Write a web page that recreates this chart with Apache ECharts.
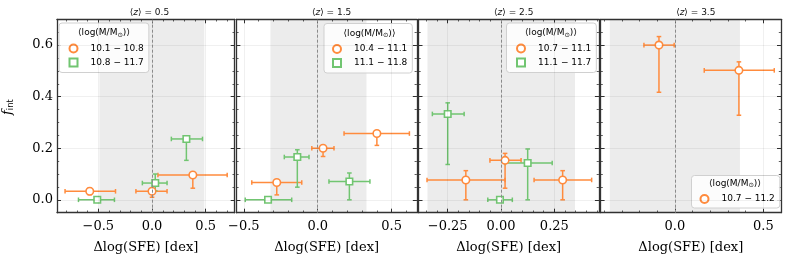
<!DOCTYPE html>
<html><head><meta charset="utf-8">
<script src="https://cdn.jsdelivr.net/npm/echarts@6/dist/echarts.min.js"></script>
<style>html,body{margin:0;padding:0;background:#fff}#c{width:789px;height:260px}</style>
</head><body><div id="c"></div>
<script>
// ---------------- data ----------------
const panelZ = ['0.5', '1.5', '2.5', '3.5'];
const xRanges = [[-0.885, 0.77], [-0.55, 0.67], [-0.387, 0.459], [-0.42, 0.60]];
const xMajorTicks = [[-0.5, 0, 0.5], [-0.5, 0, 0.5], [-0.25, 0, 0.25], [0, 0.5]];
const xMinorStep = [0.1, 0.1, 0.05, 0.1];
const xDecimals = [1, 1, 2, 1];
const shadeBands = [[-0.49, 0.487], [-0.32, 0.33], [-0.345, 0.347], [-0.368, 0.368]];
const yRange = [-0.05, 0.7];
const yMajorTicks = [0.0, 0.2, 0.4, 0.6];
const yMinorStep = 0.05;

// point: [x, y, xLow, xHigh, yLow, yHigh]
const z05LowMass = [[-0.58, 0.033, -0.81, -0.34, 0.02, 0.045], [0.0, 0.033, -0.15, 0.14, 0.01, 0.04], [0.38, 0.096, 0.055, 0.70, 0.045, 0.104]];
const z05HighMass = [[-0.51, 0.0, -0.685, -0.35, 0, 0], [0.03, 0.065, -0.09, 0.14, 0.035, 0.1], [0.32, 0.236, 0.18, 0.47, 0.153, 0.245]];
const z15LowMass = [[-0.277, 0.067, -0.446, -0.108, 0.019, 0.077], [0.036, 0.2, -0.04, 0.11, 0.168, 0.21], [0.4, 0.257, 0.178, 0.62, 0.211, 0.262]];
const z15HighMass = [[-0.336, 0.0, -0.49, -0.176, 0, 0], [-0.138, 0.166, -0.226, -0.059, 0.049, 0.194], [0.214, 0.071, 0.076, 0.353, 0, 0.104]];
const z25LowMass = [[-0.165, 0.077, -0.347, 0.019, 0, 0.113], [0.019, 0.153, -0.052, 0.094, 0.045, 0.18], [0.289, 0.077, 0.155, 0.425, 0, 0.113]];
const z25HighMass = [[-0.25, 0.333, -0.322, -0.173, 0.137, 0.376], [-0.005, 0.0, -0.062, 0.053, 0, 0], [0.125, 0.143, 0.019, 0.24, 0, 0.197]];
const z35LowMass = [[-0.09, 0.6, -0.175, -0.004, 0.417, 0.633], [0.362, 0.502, 0.166, 0.562, 0.328, 0.535]];

const legendTitle = '⟨log(M/M{sub|⊙})⟩';
const groups = [
  {panel: 0, name: '10.1 − 10.8', data: z05LowMass, kind: 'low'},
  {panel: 0, name: '10.8 − 11.7', data: z05HighMass, kind: 'high'},
  {panel: 1, name: '10.4 − 11.1', data: z15LowMass, kind: 'low'},
  {panel: 1, name: '11.1 − 11.8', data: z15HighMass, kind: 'high'},
  {panel: 2, name: '10.7 − 11.1', data: z25LowMass, kind: 'low'},
  {panel: 2, name: '11.1 − 11.7', data: z25HighMass, kind: 'high'},
  {panel: 3, name: '10.7 − 11.2', data: z35LowMass, kind: 'low'}
];

// ---------------- style / layout ----------------
const ORANGE = '#ff8b3d', GREEN = '#71c571';
const AX = '#333333';
const gridLeft0 = 54.3, gridStep = 182.1, gridW = 180.4, gridTop = 19.3, gridH = 193.4;
const legendBoxes = [
  {left: 59, top: 23, pad: [19.5, 5, 4, 9.5], titleX: 104, titleY: 33},
  {left: 324, top: 23.5, pad: [19.5, 5, 4, 8], titleX: 369.5, titleY: 33.5},
  {left: 506.5, top: 23, pad: [19.5, 5, 4, 9.5], titleX: 551, titleY: 33},
  {left: 691.5, top: 175.5, pad: [17.5, 5, 3, 8], titleX: 735, titleY: 183.5}
];

function tickList(min, max, step) {
  const out = [];
  const s = Math.ceil(min / step - 1e-9), e = Math.floor(max / step + 1e-9);
  for (let k = s; k <= e; k++) out.push(+(k * step).toFixed(6));
  return out;
}
function fmt(v, d) {
  const s = Math.abs(v).toFixed(d);
  return (v < -1e-9 ? '−' : '') + s;
}

const grid = [], xAxis = [], yAxis = [], series = [], legend = [], title = [];
for (let i = 0; i < 4; i++) {
  const left = gridLeft0 + i * gridStep;
  grid.push({left: left, top: gridTop, width: gridW, height: gridH, containLabel: false});
  title.push({
    text: '⟨{i|z}⟩ = ' + panelZ[i], left: left + gridW / 2, top: 3, textAlign: 'center',
    textStyle: {fontFamily: 'DejaVu Sans', fontSize: 9, fontWeight: 'normal', color: '#111',
      rich: {i: {fontFamily: 'DejaVu Sans', fontStyle: 'italic', fontSize: 9, color: '#111'}}}
  });
  const [xmin, xmax] = xRanges[i];
  const majX = xMajorTicks[i], minX = tickList(xmin, xmax, xMinorStep[i]);
  const minY = tickList(yRange[0], yRange[1], yMinorStep);
  const d = xDecimals[i];
  const baseX = {type: 'value', gridIndex: i, min: xmin, max: xmax, splitLine: {show: false}, scale: true};
  const baseY = {type: 'value', gridIndex: i, min: yRange[0], max: yRange[1], splitLine: {show: false}, scale: true};
  xAxis.push(Object.assign({}, baseX, {
    position: 'bottom',
    axisLine: {show: true, onZero: false, lineStyle: {color: AX, width: 1.3}},
    axisTick: {show: true, inside: true, length: 4, customValues: majX, lineStyle: {color: AX, width: 1}},
    axisLabel: {show: true, customValues: majX, formatter: v => fmt(v, d), fontFamily: 'DejaVu Serif', fontSize: 13, color: '#000', margin: 7},
    name: 'Δlog(SFE) [dex]', nameLocation: 'middle', nameGap: 28,
    nameTextStyle: {fontFamily: 'DejaVu Serif', fontSize: 13, color: '#000'}
  }));
  xAxis.push(Object.assign({}, baseX, {
    position: 'bottom', axisLine: {show: false, onZero: false},
    axisTick: {show: true, inside: true, length: 2.2, customValues: minX, lineStyle: {color: AX, width: 0.8}},
    axisLabel: {show: false}
  }));
  xAxis.push(Object.assign({}, baseX, {
    position: 'top', axisLine: {show: true, onZero: false, lineStyle: {color: AX, width: 1.3}},
    axisTick: {show: true, inside: true, length: 4, customValues: majX, lineStyle: {color: AX, width: 1}},
    axisLabel: {show: false}
  }));
  xAxis.push(Object.assign({}, baseX, {
    position: 'top', axisLine: {show: false, onZero: false},
    axisTick: {show: true, inside: true, length: 2.2, customValues: minX, lineStyle: {color: AX, width: 0.8}},
    axisLabel: {show: false}
  }));
  const yMain = Object.assign({}, baseY, {
    position: 'left', axisLine: {show: true, onZero: false, lineStyle: {color: AX, width: 1.3}},
    axisTick: {show: true, inside: true, length: 4, customValues: yMajorTicks, lineStyle: {color: AX, width: 1}},
    axisLabel: {show: i === 0, customValues: yMajorTicks, formatter: v => fmt(v, 1), fontFamily: 'DejaVu Serif', fontSize: 13, color: '#000', margin: 4}
  });
  if (i === 0) {
    Object.assign(yMain, {
      name: '{f|f}{s|int}', nameLocation: 'middle', nameGap: 42, nameRotate: 90,
      nameTextStyle: {padding: [0, 0, 0, 18], rich: {
        f: {fontFamily: 'DejaVu Serif', fontStyle: 'italic', fontSize: 13, color: '#000'},
        s: {fontFamily: 'DejaVu Sans', fontSize: 8.5, color: '#000', padding: [6, 0, 0, 0]}
      }}
    });
  }
  yAxis.push(yMain);
  yAxis.push(Object.assign({}, baseY, {
    position: 'left', axisLine: {show: false, onZero: false},
    axisTick: {show: true, inside: true, length: 2.2, customValues: minY, lineStyle: {color: AX, width: 0.8}},
    axisLabel: {show: false}
  }));
  yAxis.push(Object.assign({}, baseY, {
    position: 'right', axisLine: {show: true, onZero: false, lineStyle: {color: AX, width: 1.3}},
    axisTick: {show: true, inside: true, length: 4, customValues: yMajorTicks, lineStyle: {color: AX, width: 1}},
    axisLabel: {show: false}
  }));
  yAxis.push(Object.assign({}, baseY, {
    position: 'right', axisLine: {show: false, onZero: false},
    axisTick: {show: true, inside: true, length: 2.2, customValues: minY, lineStyle: {color: AX, width: 0.8}},
    axisLabel: {show: false}
  }));

  const gridLines = majX.map(v => ({xAxis: v})).concat(yMajorTicks.map(v => ({yAxis: v})));
  series.push({
    type: 'scatter', xAxisIndex: 4 * i, yAxisIndex: 4 * i, data: [], z: 1, silent: true,
    markArea: {silent: true, itemStyle: {color: 'rgba(0,0,0,0.075)'},
      data: [[{xAxis: shadeBands[i][0]}, {xAxis: shadeBands[i][1]}]]},
    markLine: {silent: true, symbol: 'none', label: {show: false}, animation: false,
      lineStyle: {color: 'rgba(0,0,0,0.08)', width: 0.8, type: 'solid'},
      data: gridLines.concat([{xAxis: 0, lineStyle: {color: '#8a8a8a', width: 1, type: [3, 2]}}])}
  });
}

groups.forEach(g => {
  const col = g.kind === 'low' ? ORANGE : GREEN;
  const ai = 4 * g.panel;
  series.push({
    type: 'custom', xAxisIndex: ai, yAxisIndex: ai, z: 2, silent: true,
    data: g.data,
    renderItem: function (params, api) {
      const x = api.value(0), y = api.value(1);
      const xl = api.coord([api.value(2), y]), xh = api.coord([api.value(3), y]);
      const yl = api.coord([x, api.value(4)]), yh = api.coord([x, api.value(5)]);
      const st = {stroke: col, lineWidth: 1.5};
      const c = 2.3;
      const ch = [
        {type: 'line', shape: {x1: xl[0], y1: xl[1], x2: xh[0], y2: xh[1]}, style: st},
        {type: 'line', shape: {x1: xl[0], y1: xl[1] - c, x2: xl[0], y2: xl[1] + c}, style: st},
        {type: 'line', shape: {x1: xh[0], y1: xh[1] - c, x2: xh[0], y2: xh[1] + c}, style: st}
      ];
      if (Math.abs(yl[1] - yh[1]) > 0.5) {
        ch.push({type: 'line', shape: {x1: yl[0], y1: yl[1], x2: yh[0], y2: yh[1]}, style: st});
        ch.push({type: 'line', shape: {x1: yl[0] - c, y1: yl[1], x2: yl[0] + c, y2: yl[1]}, style: st});
        ch.push({type: 'line', shape: {x1: yh[0] - c, y1: yh[1], x2: yh[0] + c, y2: yh[1]}, style: st});
      }
      return {type: 'group', children: ch};
    }
  });
  series.push({
    type: 'scatter', name: g.name, xAxisIndex: ai, yAxisIndex: ai, z: 3,
    data: g.data.map(p => [p[0], p[1]]),
    symbol: g.kind === 'low' ? 'circle' : 'rect',
    symbolSize: g.kind === 'low' ? 7.5 : 6.5,
    itemStyle: {color: '#ffffff', borderColor: col, borderWidth: 1.6, opacity: 1}
  });
});

for (let i = 0; i < 4; i++) {
  const lb = legendBoxes[i];
  legend.push({
    data: groups.filter(g => g.panel === i).map(g => g.name),
    orient: 'vertical', left: lb.left, top: lb.top, padding: lb.pad,
    itemWidth: 8, itemHeight: 8, itemGap: 2,
    borderColor: '#d0d0d0', borderWidth: 1, borderRadius: 3, backgroundColor: 'rgba(255,255,255,0.85)',
    textStyle: {fontFamily: 'DejaVu Sans', fontSize: 9, color: '#000', lineHeight: 12, padding: [0, 0, 0, 8]},
    selectedMode: false
  });
}

const chart = echarts.init(document.getElementById('c'), null, {renderer: 'canvas'});
chart.setOption({
  animation: false, backgroundColor: '#ffffff',
  title: title, grid: grid, xAxis: xAxis, yAxis: yAxis, series: series, legend: legend,
  graphic: legendBoxes.map(lb => ({
    type: 'text', x: lb.titleX, y: lb.titleY, z: 100,
    style: {text: legendTitle, fontFamily: 'DejaVu Sans', fontSize: 9, fill: '#000',
      align: 'center', verticalAlign: 'middle',
      rich: {sub: {fontFamily: 'DejaVu Sans', fontSize: 6.5, fill: '#000', padding: [4, 0, 0, 0]}}}
  }))
});
</script></body></html>
